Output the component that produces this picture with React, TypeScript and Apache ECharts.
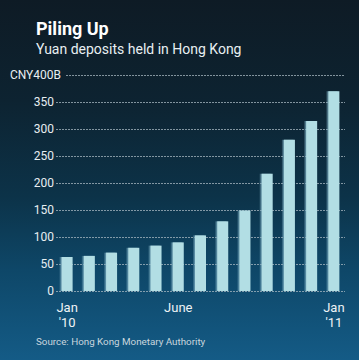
import React, { useEffect, useRef } from "react";
import * as echarts from "echarts";

const months: string[] = ["Jan\n'10", "Feb", "Mar", "Apr", "May", "June", "Jul", "Aug", "Sep", "Oct", "Nov", "Dec", "Jan\n'11"];
const shownLabelIndexes: number[] = [0, 5, 12];
const deposits: number[] = [63, 65, 71, 80, 84, 90, 103, 129, 149, 217, 280, 315, 370];
const yTicks: number[] = [0, 50, 100, 150, 200, 250, 300, 350, 400];
const titleText = "Piling Up";
const subtitleText = "Yuan deposits held in Hong Kong";
const sourceText = "Source: Hong Kong Monetary Authority";
const unitLabel = "CNY400B";

const FONT = "Roboto, 'Liberation Sans', Arial, sans-serif";
const GRID_COLOR = "rgba(170,185,195,0.75)";

export default function App() {
  const ref = useRef<HTMLDivElement>(null);
  useEffect(() => {
    if (!ref.current) return;
    const chart = echarts.init(ref.current, undefined, { renderer: "svg" });
    const yMax = yTicks[yTicks.length - 1];
    const yStep = yTicks[1] - yTicks[0];
    const splitColors = yTicks.map((v) => (v === yMax ? "transparent" : GRID_COLOR));
    chart.setOption({
      animation: false,
      backgroundColor: "transparent",
      textStyle: { fontFamily: FONT },
      graphic: [
        {
          type: "text",
          left: 36,
          top: 19,
          style: { text: titleText, fill: "#ffffff", font: `bold 18px ${FONT}` },
        },
        {
          type: "text",
          left: 36,
          top: 42,
          style: { text: subtitleText, fill: "#e8eff2", font: `14px ${FONT}` },
        },
        {
          type: "text",
          left: 36,
          top: 336,
          style: { text: sourceText, fill: "#c9d6de", font: `9.8px ${FONT}` },
        },
      ],
      grid: [
        { left: 56, right: 14, top: 75, bottom: 69 },
        { left: 66, right: 14, top: 75, bottom: 69 },
      ],
      xAxis: [
        {
          type: "category",
          gridIndex: 0,
          data: months,
          axisLine: { show: false },
          axisTick: { show: false },
          axisLabel: {
            interval: (i: number) => shownLabelIndexes.includes(i),
            color: "#eef3f5",
            fontSize: 13,
            lineHeight: 15,
            margin: 9,
            fontFamily: FONT,
          },
        },
        { type: "value", gridIndex: 1, min: 0, max: 1, show: false },
      ],
      yAxis: [
        {
          type: "value",
          gridIndex: 0,
          min: 0,
          max: yMax,
          interval: yStep,
          axisLine: { show: false },
          axisTick: { show: false },
          axisLabel: {
            formatter: (v: number) => (v === yMax ? "" : String(v)),
            color: "#e8eef1",
            fontSize: 12,
            margin: 2,
            fontFamily: FONT,
          },
          splitLine: { show: true, lineStyle: { color: splitColors, type: [2, 1], width: 1 } },
        },
        {
          type: "value",
          gridIndex: 1,
          min: 0,
          max: yMax,
          interval: yMax,
          axisLine: { show: false },
          axisTick: { show: false },
          axisLabel: {
            formatter: (v: number) => (v === yMax ? unitLabel : ""),
            color: "#e8eef1",
            fontSize: 12,
            margin: 5,
            fontFamily: FONT,
          },
          splitLine: { show: true, lineStyle: { color: ["transparent", GRID_COLOR], type: [2, 1], width: 1 } },
        },
      ],
      series: [
        {
          type: "bar",
          xAxisIndex: 0,
          yAxisIndex: 0,
          data: deposits,
          barWidth: 11,
          itemStyle: {
            color: "#b2dee4",
            shadowColor: "rgba(120,170,190,0.7)",
            shadowOffsetX: -1.5,
            shadowBlur: 0,
          },
        },
      ],
    });
    return () => chart.dispose();
  }, []);
  return (
    <div
      ref={ref}
      style={{
        position: "fixed",
        left: 0,
        top: 0,
        width: 359,
        height: 360,
        background:
          "linear-gradient(180deg, #0e1b25 0%, #0d2331 28%, #0c3349 55%, #0e4768 75%, #145b86 100%)",
      }}
    />
  );
}
